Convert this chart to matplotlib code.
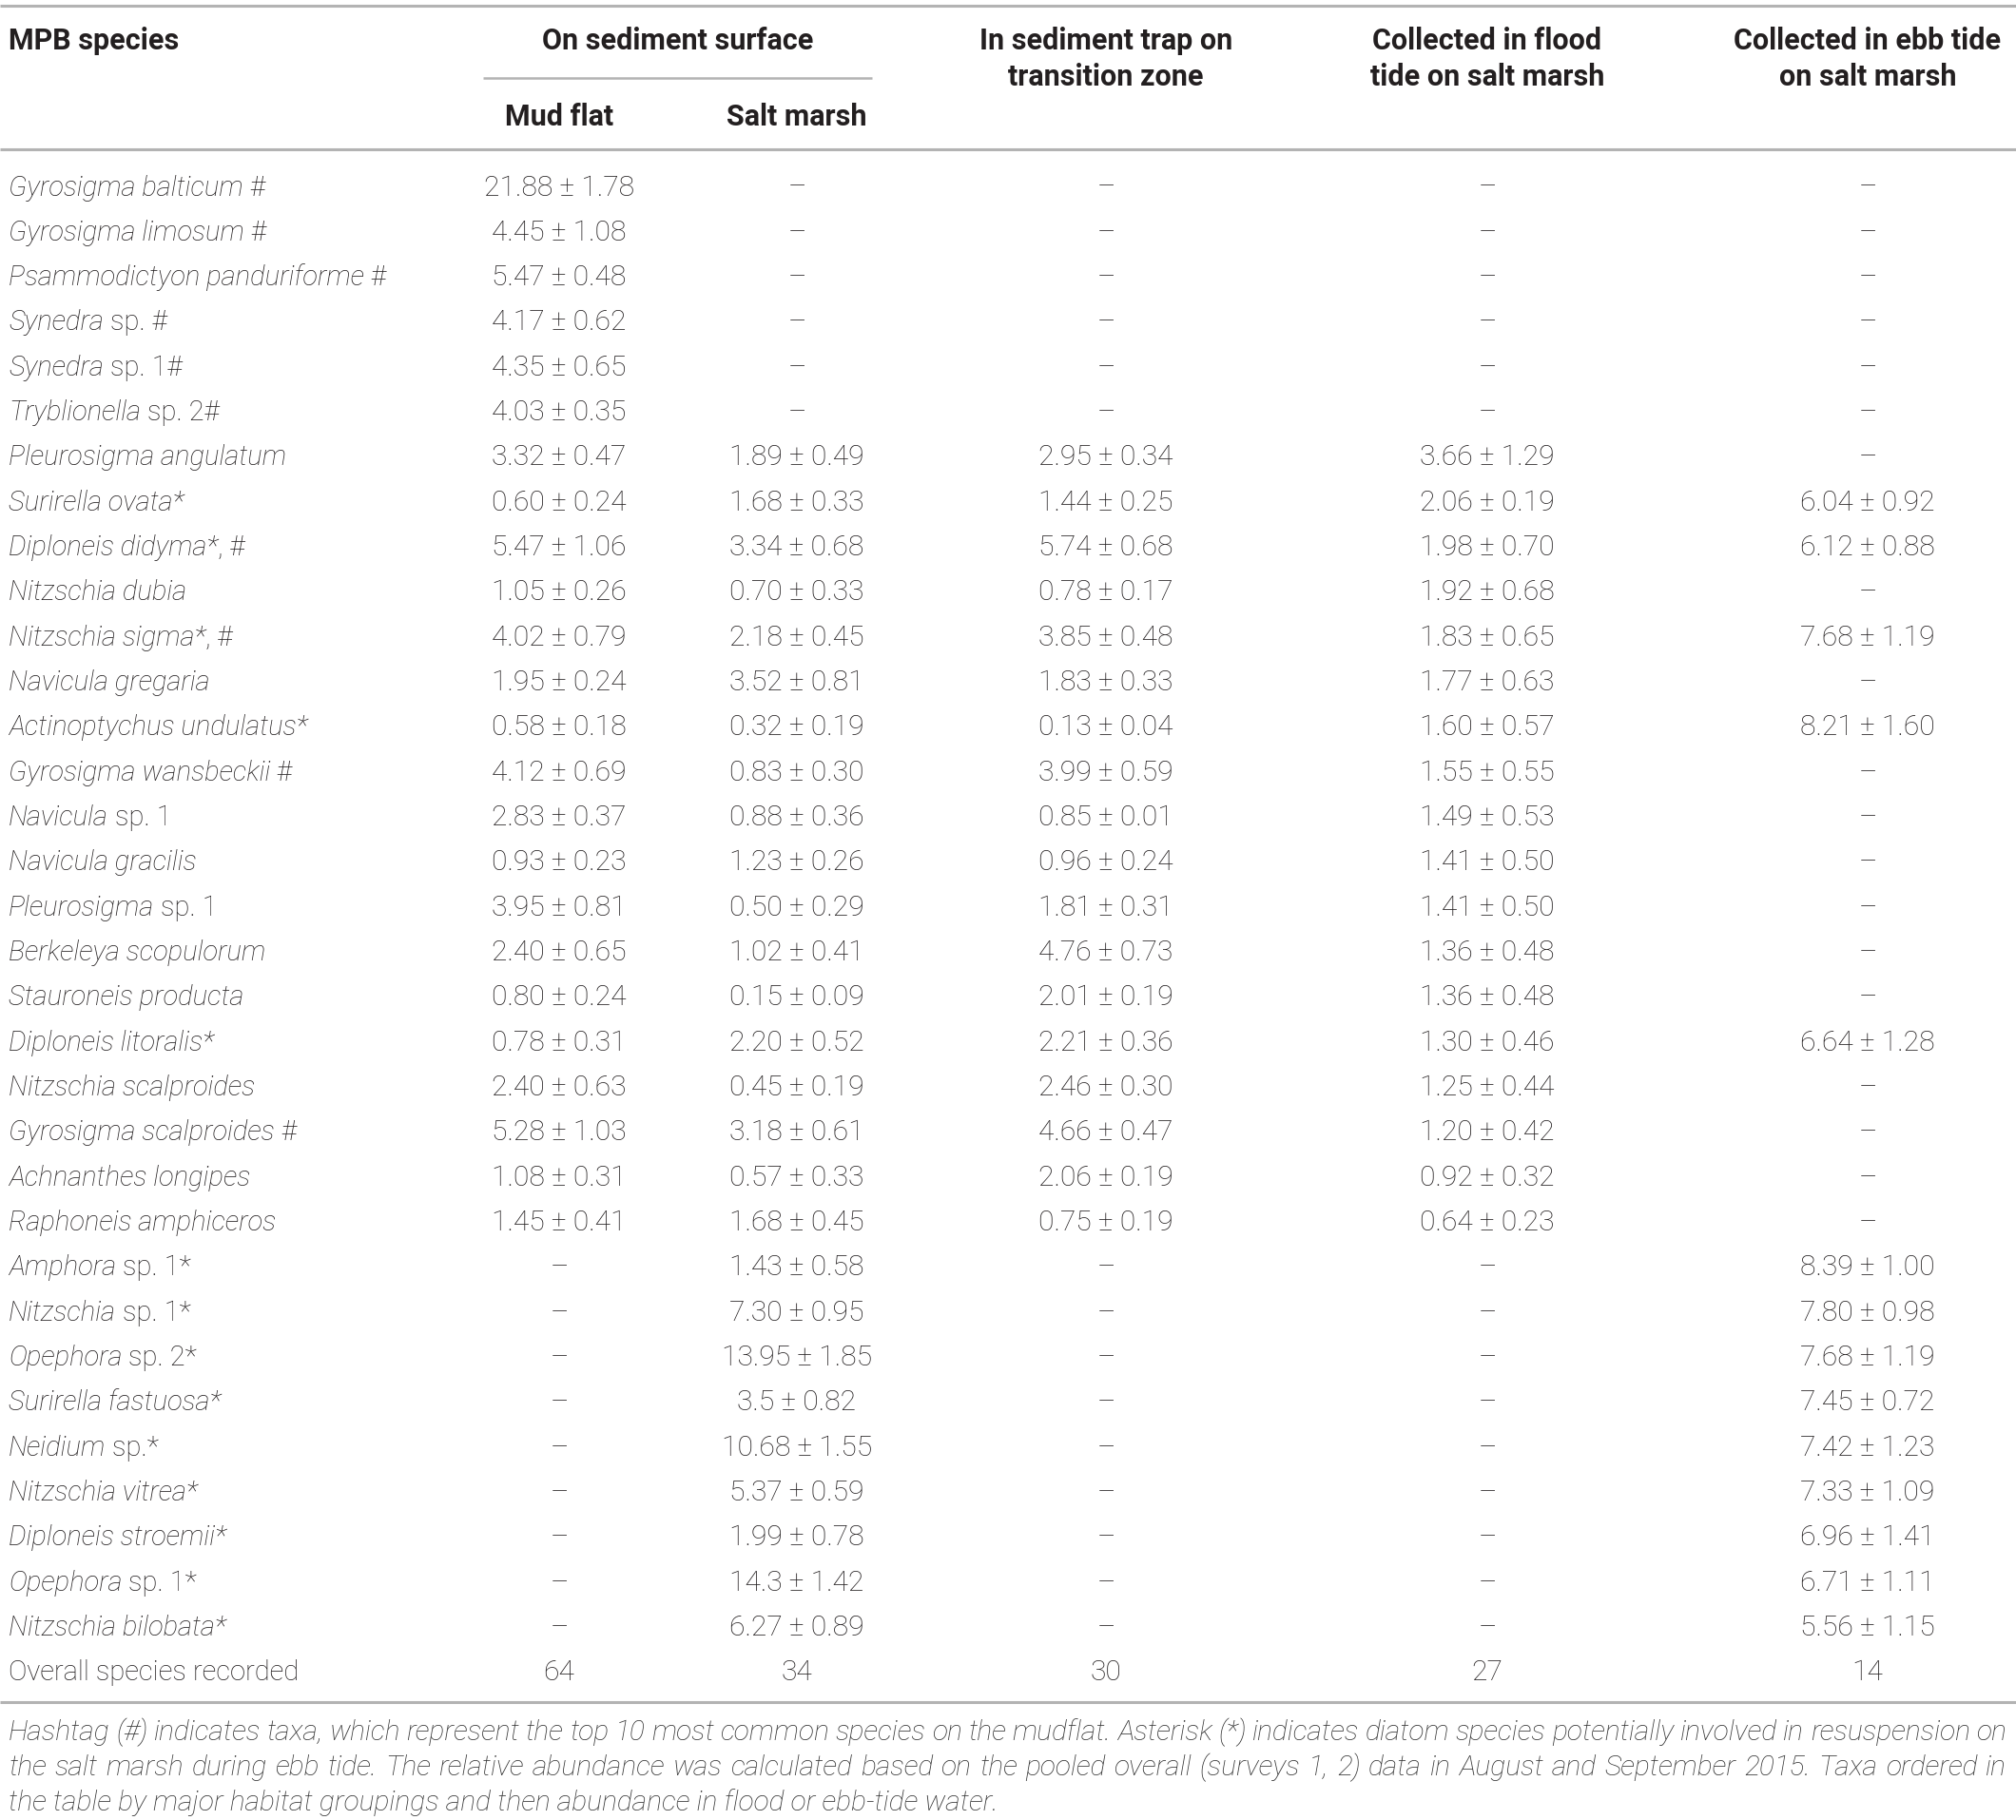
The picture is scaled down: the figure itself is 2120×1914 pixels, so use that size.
import matplotlib.pyplot as plt
from matplotlib.lines import Line2D

# =========================
# Table data
# =========================
species_italic = [
    "Gyrosigma balticum", "Gyrosigma limosum", "Psammodictyon panduriforme",
    "Synedra", "Synedra", "Tryblionella", "Pleurosigma angulatum",
    "Surirella ovata*", "Diploneis didyma*", "Nitzschia dubia",
    "Nitzschia sigma*", "Navicula gregaria", "Actinoptychus undulatus*",
    "Gyrosigma wansbeckii", "Navicula", "Navicula gracilis", "Pleurosigma",
    "Berkeleya scopulorum", "Stauroneis producta", "Diploneis litoralis*",
    "Nitzschia scalproides", "Gyrosigma scalproides", "Achnanthes longipes",
    "Raphoneis amphiceros", "Amphora", "Nitzschia", "Opephora",
    "Surirella fastuosa*", "Neidium", "Nitzschia vitrea*",
    "Diploneis stroemii*", "Opephora", "Nitzschia bilobata*",
]
species_suffix = [
    " #", " #", " #", " sp. #", " sp. 1#", " sp. 2#", "",
    "", ", #", "", ", #", "", "",
    " #", " sp. 1", "", " sp. 1", "", "", "",
    "", " #", "", "", " sp. 1*", " sp. 1*", " sp. 2*",
    "", " sp.*", "", "", " sp. 1*", "",
]

D = "\u2013"
mud_flat = [
    "21.88 ± 1.78", "4.45 ± 1.08", "5.47 ± 0.48", "4.17 ± 0.62", "4.35 ± 0.65",
    "4.03 ± 0.35", "3.32 ± 0.47", "0.60 ± 0.24", "5.47 ± 1.06", "1.05 ± 0.26",
    "4.02 ± 0.79", "1.95 ± 0.24", "0.58 ± 0.18", "4.12 ± 0.69", "2.83 ± 0.37",
    "0.93 ± 0.23", "3.95 ± 0.81", "2.40 ± 0.65", "0.80 ± 0.24", "0.78 ± 0.31",
    "2.40 ± 0.63", "5.28 ± 1.03", "1.08 ± 0.31", "1.45 ± 0.41",
    D, D, D, D, D, D, D, D, D,
]
salt_marsh = [
    D, D, D, D, D, D,
    "1.89 ± 0.49", "1.68 ± 0.33", "3.34 ± 0.68", "0.70 ± 0.33", "2.18 ± 0.45",
    "3.52 ± 0.81", "0.32 ± 0.19", "0.83 ± 0.30", "0.88 ± 0.36", "1.23 ± 0.26",
    "0.50 ± 0.29", "1.02 ± 0.41", "0.15 ± 0.09", "2.20 ± 0.52", "0.45 ± 0.19",
    "3.18 ± 0.61", "0.57 ± 0.33", "1.68 ± 0.45", "1.43 ± 0.58", "7.30 ± 0.95",
    "13.95 ± 1.85", "3.5 ± 0.82", "10.68 ± 1.55", "5.37 ± 0.59", "1.99 ± 0.78",
    "14.3 ± 1.42", "6.27 ± 0.89",
]
sediment_trap = [
    D, D, D, D, D, D,
    "2.95 ± 0.34", "1.44 ± 0.25", "5.74 ± 0.68", "0.78 ± 0.17", "3.85 ± 0.48",
    "1.83 ± 0.33", "0.13 ± 0.04", "3.99 ± 0.59", "0.85 ± 0.01", "0.96 ± 0.24",
    "1.81 ± 0.31", "4.76 ± 0.73", "2.01 ± 0.19", "2.21 ± 0.36", "2.46 ± 0.30",
    "4.66 ± 0.47", "2.06 ± 0.19", "0.75 ± 0.19",
    D, D, D, D, D, D, D, D, D,
]
flood_tide = [
    D, D, D, D, D, D,
    "3.66 ± 1.29", "2.06 ± 0.19", "1.98 ± 0.70", "1.92 ± 0.68", "1.83 ± 0.65",
    "1.77 ± 0.63", "1.60 ± 0.57", "1.55 ± 0.55", "1.49 ± 0.53", "1.41 ± 0.50",
    "1.41 ± 0.50", "1.36 ± 0.48", "1.36 ± 0.48", "1.30 ± 0.46", "1.25 ± 0.44",
    "1.20 ± 0.42", "0.92 ± 0.32", "0.64 ± 0.23",
    D, D, D, D, D, D, D, D, D,
]
ebb_tide = [
    D, D, D, D, D, D,
    D, "6.04 ± 0.92", "6.12 ± 0.88", D, "7.68 ± 1.19",
    D, "8.21 ± 1.60", D, D, D,
    D, D, D, "6.64 ± 1.28", D,
    D, D, D, "8.39 ± 1.00", "7.80 ± 0.98",
    "7.68 ± 1.19", "7.45 ± 0.72", "7.42 ± 1.23", "7.33 ± 1.09", "6.96 ± 1.41",
    "6.71 ± 1.11", "5.56 ± 1.15",
]
overall_label = "Overall species recorded"
overall_counts = ["64", "34", "30", "27", "14"]

footnote_lines = [
    "Hashtag (#) indicates taxa, which represent the top 10 most common species on the mudflat. "
    "Asterisk (*) indicates diatom species potentially involved in resuspension on",
    "the salt marsh during ebb tide. The relative abundance was calculated based on the pooled "
    "overall (surveys 1, 2) data in August and September 2015. Taxa ordered in",
    "the table by major habitat groupings and then abundance in flood or ebb-tide water.",
]

# =========================
# Layout (pixel coordinates)
# =========================
W, H = 2120, 1914
col_x = [588, 838, 1163, 1564, 1964]
name_x = 9
right_x = 2110
row0_y, row_step = 195, 47.33
fs = 21          # species names
fs_val = 21.6    # numbers
fs_head = 22     # bold header
txt_color = "#231f20"
rule_color = "#b3b3b3"
family = ["Roboto", "DejaVu Sans"]

fig = plt.figure(figsize=(W / 100, H / 100), dpi=100)
ax = fig.add_axes([0, 0, 1, 1])
ax.set_xlim(0, W)
ax.set_ylim(H, 0)
ax.axis("off")
renderer = fig.canvas.get_renderer()


def put(x, y, s, ha="center", size=fs, **kw):
    # y is the visual centre of the row; shift down to the baseline
    return ax.text(x, y + 10.5, s, ha=ha, va="baseline", fontsize=size,
                   color=txt_color, family=family, **kw)


def hrule(y, x0=0, x1=W, lw=2.2):
    ax.add_line(Line2D([x0, x1], [y, y], color=rule_color, lw=lw, solid_capstyle="butt"))


# Rules
hrule(6)
hrule(82, 508, 917, lw=1.8)
hrule(157)
hrule(1790)

# Header
hb = dict(size=fs_head, fontweight="bold")
put(name_x, 41, "MPB species", ha="left", **hb)
put(713, 41, "On sediment surface", **hb)
put(col_x[0], 122, "Mud flat", **hb)
put(col_x[1], 122, "Salt marsh", **hb)
for x, (l1, l2) in zip(col_x[2:], [("In sediment trap on", "transition zone"),
                                   ("Collected in flood", "tide on salt marsh"),
                                   ("Collected in ebb tide", "on salt marsh")]):
    put(x, 41, l1, **hb)
    put(x, 80, l2, **hb)

# Body
columns = [mud_flat, salt_marsh, sediment_trap, flood_tide, ebb_tide]
for i, (ital, suf) in enumerate(zip(species_italic, species_suffix)):
    y = row0_y + i * row_step
    t = put(name_x, y, ital, ha="left", style="italic", fontweight="light")
    if suf:
        ax.annotate(suf, xy=(1, 0), xycoords=t, ha="left", va="bottom",
                    fontsize=fs, color=txt_color, family=family, fontweight="light")
    for x, col in zip(col_x, columns):
        put(x, y, col[i], size=fs_val, fontweight="light")

y = row0_y + len(species_italic) * row_step
put(name_x, y, overall_label, ha="left", fontweight="light")
for x, c in zip(col_x, overall_counts):
    put(x, y, c, size=fs_val, fontweight="light")

# Footnote: size picked so the last (ragged) line ends where it does in print,
# the other lines are justified to the full width
fn_base = [1830, 1867, 1904]
last_end = 1052
fn_kw = dict(ha="left", va="baseline", style="italic", fontweight="light",
             color="#333333", family=family)
probe = ax.text(0, 0, footnote_lines[-1], fontsize=20, **fn_kw)
fn_fs = 20 * (last_end - name_x) / probe.get_window_extent(renderer).width
probe.remove()

for k, (yy, line) in enumerate(zip(fn_base, footnote_lines)):
    if k == len(footnote_lines) - 1:
        ax.text(name_x, yy, line, fontsize=fn_fs, **fn_kw)
        continue
    words = line.split(" ")
    arts = [ax.text(0, yy, w, fontsize=fn_fs, **fn_kw) for w in words]
    widths = [a.get_window_extent(renderer).width for a in arts]
    gap = (right_x - name_x - sum(widths)) / (len(words) - 1)
    xpos = name_x
    for a, wdt in zip(arts, widths):
        a.set_x(xpos)
        xpos += wdt + gap

fig.savefig("out.png", dpi=100, facecolor="white")
